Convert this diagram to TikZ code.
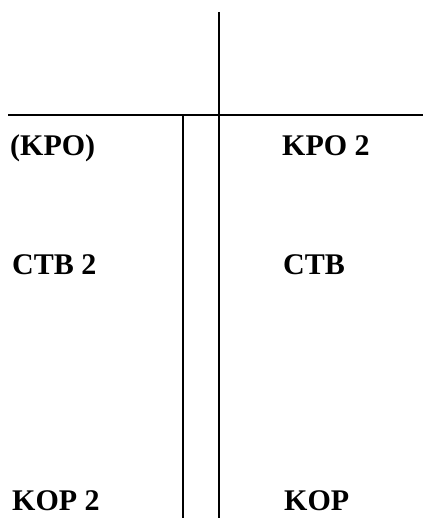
\documentclass[tikz,border=0pt]{standalone}
\usepackage{fontspec}
\setmainfont{Liberation Serif}
\tikzset{
  rule/.style={line width=2.2pt},
  lbl/.style={anchor=base west, inner sep=0pt, font=\fontsize{30}{30}\selectfont\bfseries}
}
\begin{document}
\begin{tikzpicture}[x=1pt,y=1pt]
\useasboundingbox (0,0) rectangle (423,-518);
\coordinate (ctop) at (219,-12);
\coordinate (cbot) at (219,-518);
\coordinate (hl) at (8,-115);
\coordinate (hr) at (423,-115);
\coordinate (ltop) at (183,-115);
\coordinate (lbot) at (183,-518);
\draw[rule] (ctop) -- (cbot);
\draw[rule] (hl) -- (hr);
\draw[rule] (ltop) -- (lbot);
\node[lbl] (kpo) at (10,-156) {(KPO)};
\node[lbl] (kpo2) at (282,-156) {KPO 2};
\node[lbl] (ctb2) at (12,-274) {CTB 2};
\node[lbl] (ctb) at (283,-274) {CTB};
\node[lbl] (kop2) at (12,-510) {KOP 2};
\node[lbl] (kop) at (284,-510) {KOP};
\end{tikzpicture}
\end{document}
